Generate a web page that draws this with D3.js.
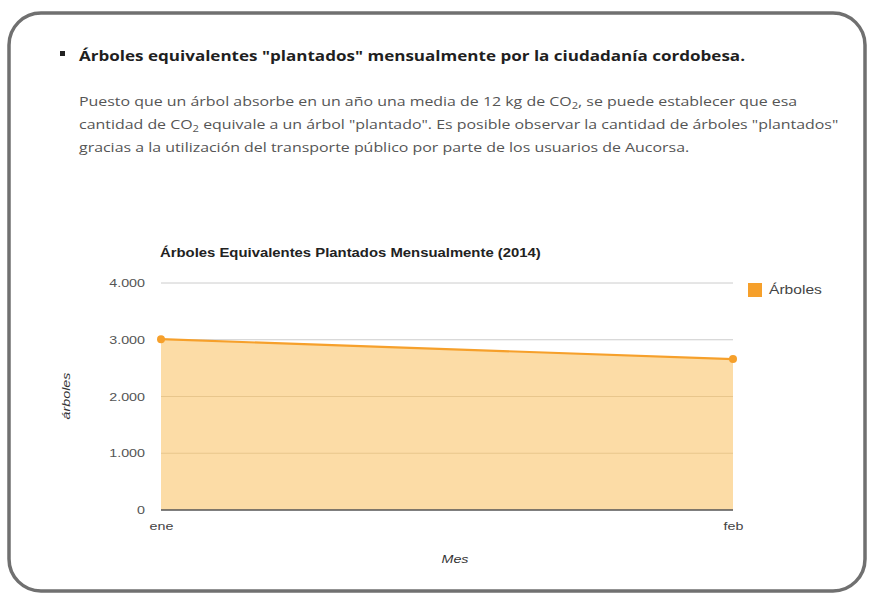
<!DOCTYPE html>
<html>
<head>
<meta charset="utf-8">
<script src="https://cdn.jsdelivr.net/npm/d3@7"></script>
<style>
  body { margin: 0; background: #fff; }
  svg { display: block; }
</style>
</head>
<body>
<div id="chart"></div>
<script>
// data
var months = ["ene", "feb"];
var arboles = [3010, 2660];
var yTicks = [0, 1000, 2000, 3000, 4000];

var W = 874, H = 596;
var svg = d3.select("#chart").append("svg")
    .attr("width", W)
    .attr("height", H);

// the source screenshot is stretched sideways, so text is widened
function stretch(sel, x, y, sx) {
    sel.attr("x", 0).attr("y", 0)
        .attr("transform", "translate(" + x + "," + y + ") scale(" + sx + ",1)");
    return sel;
}

// page frame (rounded screenshot border)
svg.append("rect")
    .attr("x", 9).attr("y", 13)
    .attr("width", 856).attr("height", 578)
    .attr("rx", 32)
    .attr("fill", "#fff")
    .attr("stroke", "#707070")
    .attr("stroke-width", 3.5);

// heading and paragraph
svg.append("rect")
    .attr("x", 60).attr("y", 51).attr("width", 5).attr("height", 5)
    .attr("fill", "#222");
svg.append("text")
    .attr("x", 79).attr("y", 61)
    .style("font-family", "'Open Sans', sans-serif")
    .style("font-size", "14.5px")
    .style("font-weight", "bold")
    .attr("fill", "#1f1f1f")
    .attr("textLength", 666)
    .attr("lengthAdjust", "spacingAndGlyphs")
    .text("Árboles equivalentes \"plantados\" mensualmente por la ciudadanía cordobesa.");

var para = svg.append("g")
    .style("font-family", "'Open Sans', sans-serif")
    .style("font-size", "12.8px")
    .attr("fill", "#555");

var l1 = stretch(para.append("text"), 79, 106, 1.245);
l1.append("tspan").text("Puesto que un árbol absorbe en un año una media de 12 kg de CO");
l1.append("tspan").attr("dy", 3).style("font-size", "9px").text("2");
l1.append("tspan").attr("dy", -3).text(", se puede establecer que esa");

var l2 = stretch(para.append("text"), 79, 129, 1.245);
l2.append("tspan").text("cantidad de CO");
l2.append("tspan").attr("dy", 3).style("font-size", "9px").text("2");
l2.append("tspan").attr("dy", -3).text(" equivale a un árbol \"plantado\". Es posible observar la cantidad de árboles \"plantados\"");

stretch(para.append("text"), 79, 152, 1.245)
    .text("gracias a la utilización del transporte público por parte de los usuarios de Aucorsa.");

// chart
var margin = {top: 283, left: 161},
    width = 572,
    height = 227;

var g = svg.append("g")
    .attr("transform", "translate(" + margin.left + "," + margin.top + ")")
    .style("font-family", "Arial, 'Liberation Sans', sans-serif");

var xScale = d3.scalePoint().domain(months).range([0, width]);
var yScale = d3.scaleLinear().domain([0, 4000]).range([height, 0]);

stretch(svg.append("text"), 160, 257, 1.24)
    .style("font-family", "Arial, 'Liberation Sans', sans-serif")
    .style("font-size", "12px")
    .style("font-weight", "bold")
    .attr("fill", "#222")
    .text("Árboles Equivalentes Plantados Mensualmente (2014)");

// gridlines
g.append("g")
    .selectAll("line")
    .data(yTicks.slice(1))
    .enter().append("line")
    .attr("x1", 0).attr("x2", width)
    .attr("y1", function(d) { return yScale(d); })
    .attr("y2", function(d) { return yScale(d); })
    .attr("stroke", "#cccccc")
    .attr("stroke-width", 1);

var area = d3.area()
    .x(function(d, i) { return xScale(months[i]); })
    .y0(height)
    .y1(function(d) { return yScale(d); });

var line = d3.line()
    .x(function(d, i) { return xScale(months[i]); })
    .y(function(d) { return yScale(d); });

g.append("path")
    .datum(arboles)
    .attr("d", area)
    .attr("fill", "#fcdca6");

// gridlines showing through the fill
g.append("g")
    .selectAll("line")
    .data(yTicks.slice(1).filter(function(d) { return d < 2700; }))
    .enter().append("line")
    .attr("x1", 0).attr("x2", width)
    .attr("y1", function(d) { return yScale(d); })
    .attr("y2", function(d) { return yScale(d); })
    .attr("stroke", "#e8c68c")
    .attr("stroke-width", 1);

g.append("path")
    .datum(arboles)
    .attr("d", line)
    .attr("fill", "none")
    .attr("stroke", "#f6a02b")
    .attr("stroke-width", 2.2);

g.selectAll(".pt")
    .data(arboles)
    .enter().append("circle")
    .attr("class", "pt")
    .attr("cx", function(d, i) { return xScale(months[i]); })
    .attr("cy", function(d) { return yScale(d); })
    .attr("r", 4)
    .attr("fill", "#f6a02b");

// baseline
g.append("line")
    .attr("x1", 0).attr("x2", width)
    .attr("y1", height).attr("y2", height)
    .attr("stroke", "#555").attr("stroke-width", 1.5);

// y axis
var yAxis = g.append("g")
    .call(d3.axisLeft(yScale).tickValues(yTicks)
        .tickFormat(function(d) { return d3.format(",")(d).replace(/,/g, "."); })
        .tickSize(0).tickPadding(16));
yAxis.select(".domain").remove();
yAxis.selectAll("text")
    .attr("fill", "#555")
    .style("font-size", "11px")
    .attr("transform", "translate(-16,0) scale(1.3,1) translate(16,0)");

// x axis
var xAxis = g.append("g")
    .attr("transform", "translate(0," + height + ")")
    .call(d3.axisBottom(xScale).tickSize(0).tickPadding(12));
xAxis.select(".domain").remove();
xAxis.selectAll("text")
    .attr("fill", "#444")
    .style("font-size", "11px")
    .attr("transform", "scale(1.3,1)");

// axis titles
svg.append("text")
    .attr("transform", "translate(70,396) rotate(-90) scale(1.3,1)")
    .attr("text-anchor", "middle")
    .style("font-family", "Arial, 'Liberation Sans', sans-serif")
    .style("font-size", "11px")
    .style("font-style", "italic")
    .attr("fill", "#333")
    .text("árboles");

svg.append("text")
    .attr("transform", "translate(455,563) scale(1.3,1)")
    .attr("text-anchor", "middle")
    .style("font-family", "Arial, 'Liberation Sans', sans-serif")
    .style("font-size", "11px")
    .style("font-style", "italic")
    .attr("fill", "#333")
    .text("Mes");

// legend
svg.append("rect")
    .attr("x", 748).attr("y", 283)
    .attr("width", 14).attr("height", 14)
    .attr("fill", "#f6a02b");
stretch(svg.append("text"), 769, 294, 1.3)
    .style("font-family", "Arial, 'Liberation Sans', sans-serif")
    .style("font-size", "12px")
    .attr("fill", "#444")
    .text("Árboles");
</script>
</body>
</html>
